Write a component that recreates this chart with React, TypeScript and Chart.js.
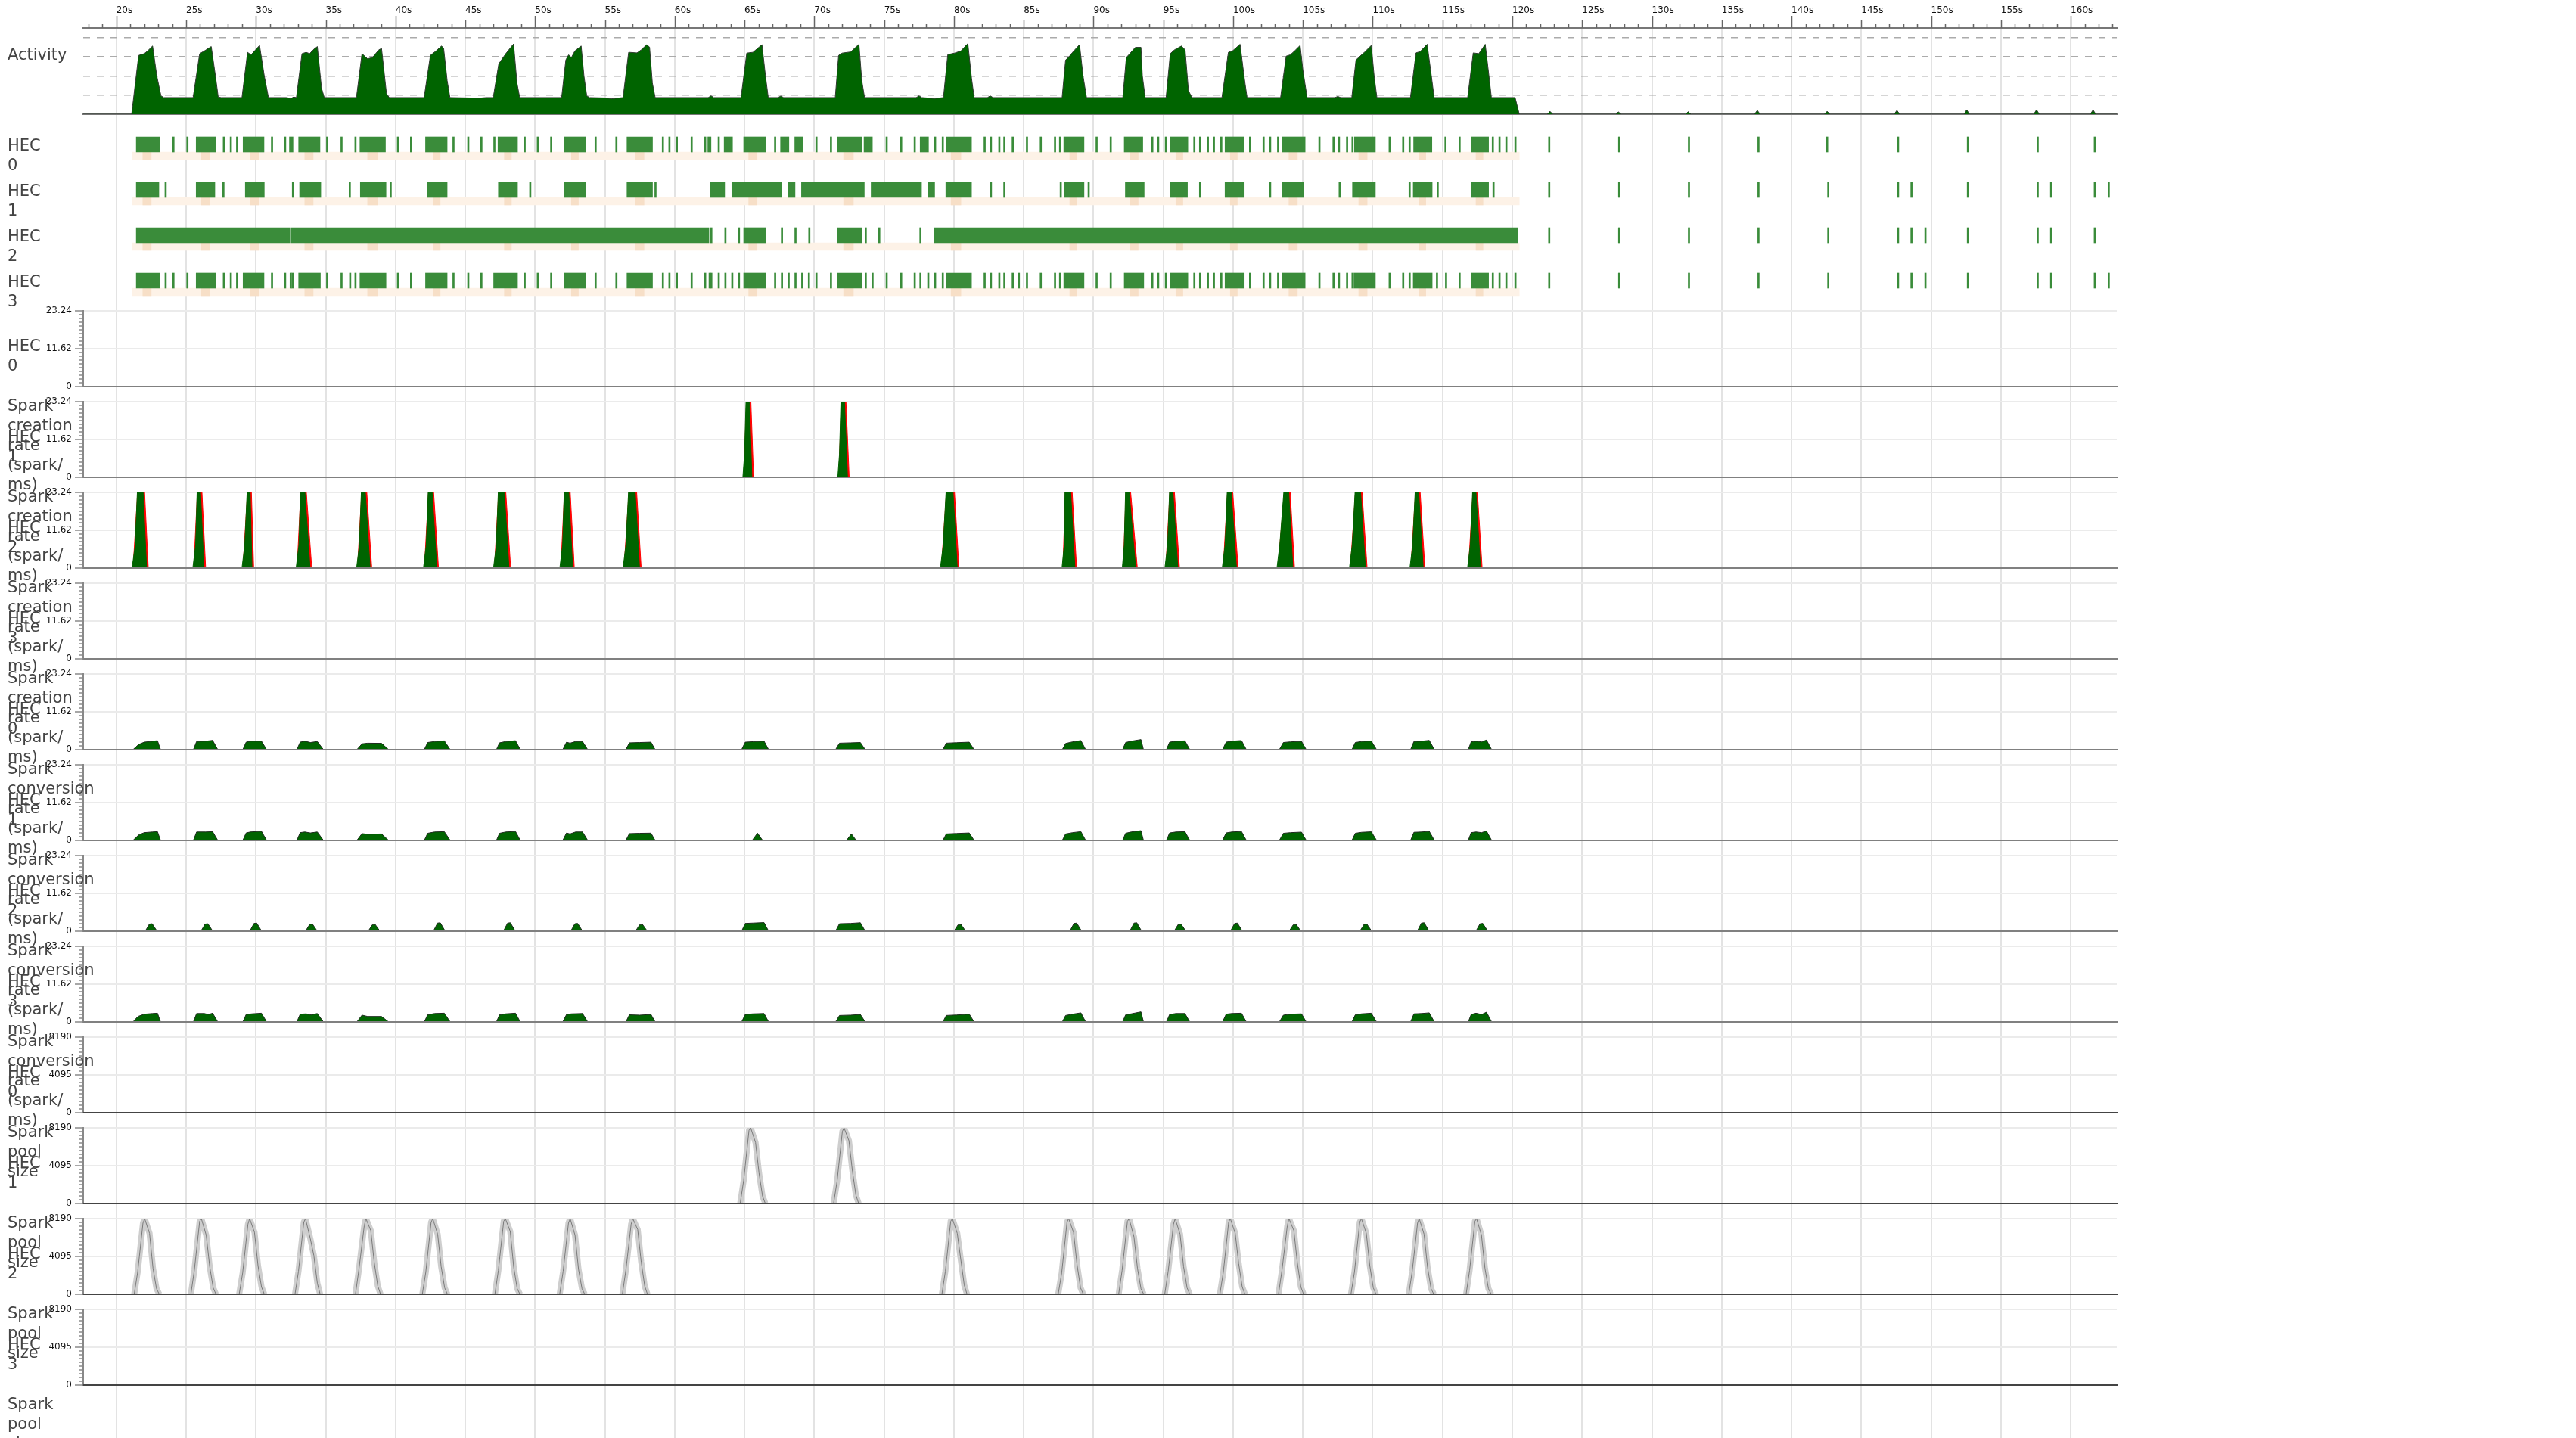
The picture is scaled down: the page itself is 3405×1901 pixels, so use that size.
import React, { useEffect, useRef } from 'react';
import { Chart, registerables } from 'chart.js';

Chart.register(...registerables);
Chart.defaults.font.family = "'DejaVu Sans', sans-serif";

type P = [number, number];

// ---------------- time axis ----------------
const timeMin = 17.63;
const timeMax = 163.3;
const timeTickValues = [20, 25, 30, 35, 40, 45, 50, 55, 60, 65, 70, 75, 80, 85, 90, 95, 100, 105, 110, 115, 120, 125, 130, 135, 140, 145, 150, 155, 160];
const timeTickLabels = ['20s', '25s', '30s', '35s', '40s', '45s', '50s', '55s', '60s', '65s', '70s', '75s', '80s', '85s', '90s', '95s', '100s', '105s', '110s', '115s', '120s', '125s', '130s', '135s', '140s', '145s', '150s', '155s', '160s'];

// ---------------- activity (cores in use) ----------------
const activity: P[] = [
  [17.63, 0], [21.1, 0], [21.6, 3.07], [22.0, 3.16], [22.24, 3.3], [22.6, 3.56], [22.9, 2.0], [23.2, 0.96], [23.4, 0.87],
  [25.5, 0.87], [25.97, 3.16], [26.3, 3.3], [26.8, 3.53], [27.1, 2.0], [27.3, 0.9], [27.5, 0.87],
  [29.0, 0.87], [29.4, 3.23], [29.65, 3.1], [30.26, 3.59], [30.6, 2.0], [30.9, 0.87],
  [32.2, 0.87], [32.5, 0.82], [32.7, 0.9], [32.9, 0.87], [33.3, 3.16], [33.6, 3.23], [33.85, 3.16], [34.1, 3.36], [34.4, 3.53], [34.7, 1.36], [34.9, 0.87],
  [37.2, 0.87], [37.6, 3.16], [38.0, 2.89], [38.35, 2.96], [38.8, 3.36], [39.0, 3.43], [39.35, 1.09], [39.55, 0.87],
  [42.05, 0.87], [42.5, 3.07], [42.9, 3.3], [43.3, 3.56], [43.45, 3.43], [43.7, 1.76], [43.9, 0.87],
  [46.0, 0.84], [46.5, 0.87], [47.0, 0.87], [47.4, 2.63], [47.9, 3.16], [48.46, 3.67], [48.7, 1.63], [48.9, 0.87],
  [51.9, 0.87], [52.2, 2.83], [52.4, 3.1], [52.6, 2.96], [52.85, 3.3], [53.3, 3.56], [53.5, 2.0], [53.7, 0.96], [53.9, 0.87],
  [55.0, 0.85], [55.5, 0.81], [56.3, 0.87], [56.7, 3.23], [57.3, 3.2], [57.6, 3.36], [58.0, 3.63], [58.2, 3.5], [58.4, 1.63], [58.6, 0.87],
  [62.4, 0.87], [62.6, 0.96], [62.8, 0.87],
  [64.75, 0.87], [65.16, 3.19], [65.6, 3.23], [66.25, 3.63], [66.5, 2.0], [66.7, 0.87],
  [67.4, 0.87], [67.6, 0.95], [67.8, 0.87],
  [71.5, 0.87], [71.74, 3.07], [72.0, 3.19], [72.6, 3.25], [73.2, 3.65], [73.4, 1.76], [73.6, 0.87],
  [77.3, 0.87], [77.5, 0.96], [77.7, 0.87], [78.6, 0.82], [79.0, 0.85],
  [79.25, 0.87], [79.56, 3.11], [80.05, 3.19], [80.5, 3.3], [81.0, 3.69], [81.26, 1.89], [81.45, 0.87],
  [82.4, 0.87], [82.6, 0.96], [82.8, 0.87],
  [87.75, 0.87], [88.0, 2.83], [88.2, 2.96], [88.5, 3.23], [89.0, 3.63], [89.25, 2.0], [89.5, 0.87],
  [92.1, 0.87], [92.35, 2.96], [92.6, 3.16], [93.0, 3.49], [93.4, 3.49], [93.5, 2.0], [93.7, 0.87],
  [95.2, 0.87], [95.5, 3.16], [95.8, 3.36], [96.3, 3.56], [96.56, 3.36], [96.8, 1.23], [97.05, 0.87],
  [99.2, 0.87], [99.66, 3.23], [99.95, 3.3], [100.5, 3.65], [100.8, 1.89], [101.0, 0.87],
  [103.4, 0.87], [103.8, 3.03], [104.1, 3.1], [104.4, 3.3], [104.8, 3.59], [105.0, 2.29], [105.3, 0.87],
  [107.3, 0.87], [107.5, 0.93], [107.7, 0.87],
  [108.5, 0.87], [108.8, 2.83], [109.05, 3.0], [109.4, 3.23], [109.9, 3.59], [110.1, 2.0], [110.3, 0.87],
  [112.7, 0.87], [113.1, 3.2], [113.4, 3.27], [113.9, 3.65], [114.2, 2.0], [114.4, 0.87],
  [116.8, 0.87], [117.2, 3.2], [117.6, 3.16], [118.06, 3.65], [118.3, 2.16], [118.5, 0.87],
  [120.2, 0.87], [120.5, 0],
  [122.5, 0], [122.7, 0.15], [122.9, 0],
  [127.4, 0], [127.6, 0.12], [127.8, 0],
  [132.4, 0], [132.6, 0.13], [132.8, 0],
  [137.35, 0], [137.55, 0.2], [137.75, 0],
  [142.35, 0], [142.55, 0.15], [142.75, 0],
  [147.35, 0], [147.55, 0.2], [147.75, 0],
  [152.35, 0], [152.55, 0.23], [152.75, 0],
  [157.35, 0], [157.55, 0.23], [157.75, 0],
  [161.4, 0], [161.6, 0.22], [161.8, 0],
  [163.3, 0],
];
const activityGridValues = [1, 2, 3, 4];

// ---------------- HEC rows (running intervals, single events) ----------------
const hecNames = ['HEC\n0', 'HEC\n1', 'HEC\n2', 'HEC\n3'];
const hec0Blocks: P[] = [[21.43, 23.11], [25.72, 27.12], [29.08, 30.58], [32.4, 32.66], [33.06, 34.59], [37.45, 39.28], [42.15, 43.7], [47.34, 48.74], [52.1, 53.6], [56.58, 58.41], [62.37, 62.6], [63.54, 64.14], [64.94, 66.54], [67.58, 68.18], [68.6, 69.15], [71.65, 73.39], [73.56, 74.16], [77.58, 78.18], [79.44, 81.26], [87.87, 89.32], [92.2, 93.53], [95.47, 96.76], [99.42, 100.75], [103.54, 105.16], [108.69, 110.19], [112.93, 114.24], [117.05, 118.3]];
const hec0Events = [24.04, 25.04, 27.65, 28.15, 28.6, 31.1, 32.04, 35.05, 36.08, 37.08, 40.12, 41.06, 44.1, 45.16, 46.1, 47.03, 49.2, 50.14, 51.1, 54.28, 55.77, 59.1, 59.57, 60.1, 61.16, 62.13, 63.1, 67.14, 70.1, 71.14, 75.13, 76.17, 77.14, 78.6, 79.15, 82.15, 82.6, 83.2, 83.56, 84.16, 85.18, 86.17, 87.19, 87.55, 90.17, 91.18, 94.16, 94.58, 95.13, 97.17, 97.58, 98.14, 98.57, 99.1, 101.16, 102.13, 102.6, 103.17, 106.13, 107.14, 107.53, 108.11, 108.5, 111.16, 112.13, 112.59, 115.16, 116.17, 118.55, 119.03, 119.52, 120.17, 122.59, 127.6, 132.6, 137.58, 142.5, 147.58, 152.58, 157.58, 161.67];
const hec1Blocks: P[] = [[21.43, 23.05], [25.72, 27.06], [29.24, 30.6], [33.13, 34.65], [37.48, 39.32], [42.27, 43.7], [47.37, 48.74], [52.1, 53.6], [56.58, 58.41], [62.54, 63.58], [64.09, 67.65], [68.11, 68.62], [69.08, 73.58], [74.07, 77.68], [78.14, 78.62], [79.42, 81.26], [87.92, 89.32], [92.28, 93.63], [95.47, 96.73], [99.42, 100.8], [103.5, 105.08], [108.55, 110.19], [112.9, 114.26], [117.05, 118.3]];
const hec1Events = [23.48, 27.62, 32.6, 36.67, 39.6, 49.6, 58.57, 82.6, 83.56, 87.6, 89.6, 97.58, 102.6, 107.58, 112.59, 114.6, 118.6, 122.59, 127.6, 132.6, 137.58, 142.58, 147.58, 148.54, 152.58, 157.58, 158.54, 161.67, 162.67];
const hec2Blocks: P[] = [[21.43, 32.44], [32.52, 62.45], [64.94, 66.54], [71.65, 73.39], [78.6, 120.41]];
const hec2Events = [62.57, 63.58, 64.55, 67.63, 68.6, 69.59, 73.63, 74.6, 77.55, 122.59, 127.6, 132.6, 137.58, 142.58, 147.58, 148.54, 149.54, 152.58, 157.58, 158.54, 161.67];
const hec3Blocks: P[] = [[21.43, 23.11], [25.72, 27.12], [29.08, 30.58], [33.06, 34.62], [37.45, 39.32], [42.15, 43.7], [47.03, 48.74], [52.1, 53.6], [56.58, 58.41], [64.94, 66.54], [71.65, 73.39], [79.44, 81.26], [87.87, 89.32], [92.2, 93.6], [95.47, 96.76], [99.42, 100.8], [103.5, 105.16], [108.65, 110.19], [112.9, 114.26], [117.05, 118.3]];
const hec3Events = [23.48, 24.04, 25.04, 27.65, 28.15, 28.6, 31.1, 32.04, 32.44, 32.57, 35.05, 36.08, 36.7, 37.08, 40.12, 41.06, 44.1, 45.16, 46.1, 49.2, 50.14, 51.1, 54.28, 55.77, 59.1, 59.57, 60.1, 61.16, 62.13, 62.45, 62.57, 63.1, 63.58, 64.07, 64.55, 67.14, 67.63, 68.11, 68.6, 69.08, 69.56, 70.1, 71.14, 73.63, 74.12, 75.13, 76.17, 77.14, 77.55, 78.11, 78.6, 79.15, 82.15, 82.6, 83.2, 83.56, 84.16, 84.6, 85.18, 86.17, 87.19, 87.55, 90.17, 91.18, 94.16, 94.58, 95.13, 97.17, 97.58, 98.14, 98.57, 99.1, 101.16, 102.13, 102.6, 103.17, 106.13, 107.14, 107.53, 108.11, 108.5, 111.16, 112.13, 112.59, 114.55, 115.2, 116.17, 118.55, 119.03, 119.52, 120.17, 122.59, 127.6, 132.6, 137.58, 142.58, 147.58, 148.54, 149.54, 152.58, 157.58, 158.54, 161.67, 162.67];
const gcBase: P = [21.15, 120.5];
const gcSpots: P[] = [[21.9, 22.5], [26.1, 26.7], [29.6, 30.2], [33.5, 34.1], [38.0, 38.7], [42.7, 43.2], [47.8, 48.3], [52.6, 53.1], [57.2, 57.8], [65.3, 65.9], [72.1, 72.8], [79.8, 80.5], [88.3, 88.8], [92.6, 93.2], [95.9, 96.4], [99.8, 100.3], [104.0, 104.6], [109.0, 109.6], [113.3, 113.8], [117.4, 117.9]];

// ---------------- spark creation (spark/ms) ----------------
const creationHec1Green: P[] = [[64.88, 0], [65.0, 7], [65.15, 30], [65.3, 30], [65.53, 0], [71.68, 0], [71.8, 7], [71.95, 30], [72.1, 30], [72.38, 0]];
const creationHec1Red: P[] = [[64.95, 0], [65.2, 30], [65.4, 30], [65.65, 0], [71.75, 0], [72.0, 30], [72.2, 30], [72.5, 0]];
const creationHec2Green: P[] = [
  [21.13, 0], [21.35, 7], [21.57, 30], [21.85, 30], [22.17, 0],
  [25.48, 0], [25.68, 7], [25.83, 30], [25.96, 30], [26.28, 0],
  [29.0, 0], [29.2, 7], [29.44, 30], [29.55, 30], [29.72, 0],
  [32.88, 0], [33.08, 7], [33.24, 30], [33.4, 30], [33.88, 0],
  [37.21, 0], [37.41, 7], [37.61, 30], [37.74, 30], [38.18, 0],
  [42.0, 0], [42.2, 7], [42.4, 30], [42.53, 30], [42.96, 0],
  [47.02, 0], [47.22, 7], [47.42, 30], [47.7, 30], [48.13, 0],
  [51.77, 0], [51.97, 7], [52.13, 30], [52.33, 30], [52.69, 0],
  [56.3, 0], [56.5, 7], [56.77, 30], [57.08, 30], [57.48, 0],
  [79.03, 0], [79.23, 7], [79.52, 30], [79.85, 30], [80.24, 0],
  [87.74, 0], [87.9, 7], [87.98, 30], [88.28, 30], [88.67, 0],
  [92.06, 0], [92.2, 7], [92.33, 30], [92.42, 30], [93.02, 0],
  [95.11, 0], [95.31, 7], [95.5, 30], [95.59, 30], [96.04, 0],
  [99.22, 0], [99.42, 7], [99.64, 30], [99.76, 30], [100.24, 0],
  [103.14, 0], [103.34, 7], [103.75, 30], [103.9, 30], [104.28, 0],
  [108.33, 0], [108.53, 7], [108.82, 30], [109.03, 30], [109.48, 0],
  [112.66, 0], [112.86, 7], [113.11, 30], [113.2, 30], [113.62, 0],
  [116.79, 0], [116.99, 7], [117.22, 30], [117.3, 30], [117.72, 0],
];
const creationHec2Red: P[] = [
  [21.2, 0], [21.62, 30], [21.95, 30], [22.29, 0],
  [25.55, 0], [25.88, 30], [26.06, 30], [26.4, 0],
  [29.07, 0], [29.49, 30], [29.63, 30], [29.84, 0],
  [32.95, 0], [33.29, 30], [33.5, 30], [34.0, 0],
  [37.28, 0], [37.66, 30], [37.84, 30], [38.3, 0],
  [42.07, 0], [42.45, 30], [42.63, 30], [43.08, 0],
  [47.09, 0], [47.47, 30], [47.8, 30], [48.25, 0],
  [51.84, 0], [52.18, 30], [52.43, 30], [52.81, 0],
  [56.37, 0], [56.82, 30], [57.18, 30], [57.6, 0],
  [79.1, 0], [79.57, 30], [79.95, 30], [80.36, 0],
  [87.81, 0], [88.03, 30], [88.38, 30], [88.79, 0],
  [92.13, 0], [92.38, 30], [92.52, 30], [93.14, 0],
  [95.18, 0], [95.55, 30], [95.69, 30], [96.16, 0],
  [99.29, 0], [99.69, 30], [99.86, 30], [100.36, 0],
  [103.21, 0], [103.8, 30], [104.0, 30], [104.4, 0],
  [108.4, 0], [108.87, 30], [109.13, 30], [109.6, 0],
  [112.73, 0], [113.16, 30], [113.3, 30], [113.74, 0],
  [116.86, 0], [117.27, 30], [117.4, 30], [117.84, 0],
];

// ---------------- spark conversion (spark/ms) ----------------
const conversionHec0: P[] = [
  [21.19, 0], [21.6, 1.6], [22.0, 2.3], [22.6, 2.6], [22.95, 2.75], [23.17, 0],
  [25.52, 0], [25.75, 2.5], [26.4, 2.6], [26.9, 2.85], [27.27, 0],
  [29.06, 0], [29.3, 2.3], [29.6, 2.6], [30.4, 2.6], [30.77, 0],
  [32.93, 0], [33.17, 2.3], [33.5, 2.6], [33.9, 2.2], [34.4, 2.5], [34.84, 0],
  [37.23, 0], [37.6, 1.8], [38.0, 2.0], [39.0, 1.95], [39.51, 0],
  [42.06, 0], [42.3, 2.2], [42.8, 2.5], [43.5, 2.7], [43.92, 0],
  [47.23, 0], [47.45, 2.1], [47.9, 2.5], [48.6, 2.75], [48.94, 0],
  [51.98, 0], [52.25, 2.3], [52.5, 2.0], [52.9, 2.5], [53.4, 2.5], [53.77, 0],
  [56.5, 0], [56.75, 2.1], [57.5, 2.2], [58.3, 2.3], [58.6, 0],
  [64.79, 0], [65.05, 2.3], [65.6, 2.45], [66.4, 2.6], [66.73, 0],
  [71.52, 0], [71.8, 2.0], [72.6, 2.1], [73.3, 2.2], [73.65, 0],
  [79.21, 0], [79.45, 2.0], [80.2, 2.15], [81.1, 2.3], [81.45, 0],
  [87.76, 0], [88.0, 1.9], [88.5, 2.4], [89.1, 2.8], [89.44, 0],
  [92.08, 0], [92.3, 2.2], [92.7, 2.6], [93.4, 3.1], [93.58, 0],
  [95.22, 0], [95.45, 2.3], [95.9, 2.6], [96.55, 2.7], [96.9, 0],
  [99.24, 0], [99.5, 2.3], [99.9, 2.6], [100.6, 2.8], [100.95, 0],
  [103.31, 0], [103.6, 2.2], [104.1, 2.4], [104.9, 2.55], [105.24, 0],
  [108.51, 0], [108.75, 2.2], [109.2, 2.5], [109.9, 2.65], [110.28, 0],
  [112.71, 0], [112.95, 2.5], [113.5, 2.6], [114.05, 2.85], [114.42, 0],
  [116.84, 0], [117.05, 2.4], [117.4, 2.6], [117.8, 2.4], [118.15, 2.95], [118.52, 0],
];
const conversionHec1: P[] = [
  [21.19, 0], [21.6, 1.7], [22.0, 2.4], [22.6, 2.6], [22.95, 2.7], [23.17, 0],
  [25.52, 0], [25.75, 2.6], [26.4, 2.6], [26.9, 2.7], [27.27, 0],
  [29.06, 0], [29.3, 2.3], [29.6, 2.6], [30.4, 2.8], [30.77, 0],
  [32.93, 0], [33.17, 2.4], [33.5, 2.6], [33.9, 2.3], [34.4, 2.6], [34.84, 0],
  [37.23, 0], [37.6, 2.1], [38.0, 1.9], [39.0, 2.0], [39.51, 0],
  [42.06, 0], [42.3, 2.2], [42.8, 2.6], [43.5, 2.7], [43.92, 0],
  [47.23, 0], [47.45, 2.2], [47.9, 2.6], [48.6, 2.75], [48.94, 0],
  [51.98, 0], [52.25, 2.3], [52.5, 2.0], [52.9, 2.6], [53.4, 2.6], [53.77, 0],
  [56.5, 0], [56.75, 2.1], [57.5, 2.2], [58.3, 2.25], [58.6, 0],
  [65.55, 0], [65.93, 2.25], [66.3, 0],
  [72.3, 0], [72.66, 2.0], [73.0, 0],
  [79.21, 0], [79.45, 2.0], [80.2, 2.15], [81.1, 2.3], [81.45, 0],
  [87.76, 0], [88.0, 2.0], [88.5, 2.4], [89.1, 2.7], [89.44, 0],
  [92.08, 0], [92.3, 2.2], [92.7, 2.6], [93.4, 3.0], [93.58, 0],
  [95.22, 0], [95.45, 2.3], [95.9, 2.6], [96.55, 2.7], [96.9, 0],
  [99.24, 0], [99.5, 2.3], [99.9, 2.6], [100.6, 2.75], [100.95, 0],
  [103.31, 0], [103.6, 2.2], [104.1, 2.4], [104.9, 2.55], [105.24, 0],
  [108.51, 0], [108.75, 2.2], [109.2, 2.5], [109.9, 2.65], [110.28, 0],
  [112.71, 0], [112.95, 2.5], [113.5, 2.6], [114.05, 2.8], [114.42, 0],
  [116.84, 0], [117.05, 2.4], [117.4, 2.6], [117.8, 2.4], [118.15, 2.9], [118.52, 0],
];
const conversionHec2: P[] = [
  [22.07, 0], [22.37, 2.2], [22.57, 2.3], [22.92, 0],
  [26.06, 0], [26.36, 2.2], [26.56, 2.3], [26.91, 0],
  [29.56, 0], [29.86, 2.4], [30.06, 2.5], [30.41, 0],
  [33.55, 0], [33.85, 2.1], [34.05, 2.2], [34.4, 0],
  [38.04, 0], [38.34, 2.0], [38.54, 2.1], [38.89, 0],
  [42.71, 0], [43.01, 2.5], [43.21, 2.6], [43.56, 0],
  [47.73, 0], [48.03, 2.5], [48.23, 2.6], [48.58, 0],
  [52.55, 0], [52.85, 2.3], [53.05, 2.4], [53.4, 0],
  [57.19, 0], [57.49, 2.0], [57.69, 2.1], [58.04, 0],
  [64.79, 0], [65.05, 2.4], [65.6, 2.5], [66.4, 2.65], [66.73, 0],
  [71.52, 0], [71.8, 2.3], [72.6, 2.4], [73.3, 2.6], [73.65, 0],
  [80.0, 0], [80.3, 2.0], [80.5, 2.1], [80.85, 0],
  [88.3, 0], [88.6, 2.4], [88.8, 2.5], [89.15, 0],
  [92.6, 0], [92.9, 2.5], [93.1, 2.6], [93.45, 0],
  [95.77, 0], [96.07, 2.1], [96.27, 2.2], [96.62, 0],
  [99.81, 0], [100.11, 2.4], [100.31, 2.5], [100.66, 0],
  [104.01, 0], [104.31, 2.0], [104.51, 2.1], [104.86, 0],
  [109.08, 0], [109.38, 2.1], [109.58, 2.2], [109.93, 0],
  [113.19, 0], [113.49, 2.5], [113.69, 2.6], [114.04, 0],
  [117.39, 0], [117.69, 2.3], [117.89, 2.4], [118.24, 0],
];
const conversionHec3: P[] = [
  [21.19, 0], [21.55, 1.7], [22.0, 2.4], [22.6, 2.6], [22.95, 2.7], [23.17, 0],
  [25.52, 0], [25.75, 2.6], [26.3, 2.6], [26.6, 2.3], [26.9, 2.7], [27.27, 0],
  [29.06, 0], [29.3, 2.3], [29.7, 2.5], [30.4, 2.7], [30.77, 0],
  [32.93, 0], [33.17, 2.4], [33.6, 2.5], [33.95, 2.2], [34.4, 2.6], [34.84, 0],
  [37.23, 0], [37.6, 2.1], [38.0, 1.7], [39.0, 1.7], [39.51, 0],
  [42.06, 0], [42.3, 2.2], [42.8, 2.6], [43.5, 2.7], [43.92, 0],
  [47.23, 0], [47.45, 2.2], [47.9, 2.5], [48.6, 2.7], [48.94, 0],
  [51.98, 0], [52.25, 2.3], [52.6, 2.5], [53.4, 2.6], [53.77, 0],
  [56.5, 0], [56.75, 2.2], [57.5, 2.1], [58.3, 2.3], [58.6, 0],
  [64.79, 0], [65.05, 2.3], [65.6, 2.5], [66.4, 2.6], [66.73, 0],
  [71.52, 0], [71.8, 2.0], [72.6, 2.1], [73.3, 2.3], [73.65, 0],
  [79.21, 0], [79.45, 2.0], [80.2, 2.15], [81.1, 2.4], [81.45, 0],
  [87.76, 0], [88.0, 2.0], [88.5, 2.4], [89.1, 2.8], [89.44, 0],
  [92.08, 0], [92.3, 2.2], [92.7, 2.5], [93.4, 3.1], [93.58, 0],
  [95.22, 0], [95.45, 2.3], [95.9, 2.6], [96.55, 2.6], [96.9, 0],
  [99.24, 0], [99.5, 2.4], [99.9, 2.6], [100.6, 2.7], [100.95, 0],
  [103.31, 0], [103.6, 2.1], [104.1, 2.4], [104.9, 2.5], [105.24, 0],
  [108.51, 0], [108.75, 2.2], [109.2, 2.5], [109.9, 2.7], [110.28, 0],
  [112.71, 0], [112.95, 2.5], [113.5, 2.6], [114.05, 2.8], [114.42, 0],
  [116.84, 0], [117.05, 2.3], [117.4, 2.7], [117.8, 2.3], [118.15, 3.0], [118.52, 0],
];

// ---------------- spark pool size ----------------
const poolHec1: P[] = [
  [64.69, 0], [64.94, 2500], [65.32, 7900], [65.44, 8190], [65.79, 6600], [66.04, 3300], [66.29, 800], [66.49, 0],
  [71.38, 0], [71.63, 2400], [72.01, 7800], [72.13, 8190], [72.48, 6800], [72.73, 3500], [72.98, 900], [73.18, 0],
];
const poolHec2: P[] = [
  [21.28, 0], [21.53, 2400], [21.91, 7700], [22.03, 8190], [22.38, 6600], [22.63, 2800], [22.88, 600], [23.08, 0],
  [25.34, 0], [25.59, 2600], [25.97, 7900], [26.09, 8190], [26.44, 6400], [26.69, 3000], [26.94, 700], [27.14, 0],
  [28.8, 0], [29.05, 2300], [29.43, 7600], [29.55, 8190], [29.9, 6700], [30.15, 3100], [30.4, 800], [30.6, 0],
  [32.8, 0], [33.05, 2500], [33.43, 7800], [33.55, 8190], [33.9, 6000], [34.15, 4200], [34.4, 1200], [34.6, 0],
  [37.13, 0], [37.38, 2700], [37.76, 7400], [37.88, 8190], [38.23, 6900], [38.48, 3400], [38.73, 900], [38.93, 0],
  [41.92, 0], [42.17, 2400], [42.55, 7800], [42.67, 8190], [43.02, 6500], [43.27, 3000], [43.52, 700], [43.72, 0],
  [47.12, 0], [47.37, 2600], [47.75, 7900], [47.87, 8190], [48.22, 6800], [48.47, 2900], [48.72, 600], [48.92, 0],
  [51.76, 0], [52.01, 2500], [52.39, 7700], [52.51, 8190], [52.86, 6400], [53.11, 2700], [53.36, 600], [53.56, 0],
  [56.25, 0], [56.5, 2600], [56.88, 7600], [57.0, 8190], [57.35, 7000], [57.6, 3500], [57.85, 900], [58.05, 0],
  [79.14, 0], [79.39, 2500], [79.77, 7900], [79.89, 8190], [80.24, 6600], [80.49, 3800], [80.74, 1000], [80.94, 0],
  [87.47, 0], [87.72, 2300], [88.1, 7800], [88.22, 8190], [88.57, 6700], [88.82, 3200], [89.07, 700], [89.27, 0],
  [91.8, 0], [92.05, 2600], [92.43, 7900], [92.55, 8190], [92.9, 6200], [93.15, 2800], [93.4, 600], [93.6, 0],
  [95.1, 0], [95.35, 2500], [95.73, 7600], [95.85, 8190], [96.2, 6500], [96.45, 3000], [96.7, 700], [96.9, 0],
  [99.05, 0], [99.3, 2400], [99.68, 7800], [99.8, 8190], [100.15, 6600], [100.4, 3300], [100.65, 800], [100.85, 0],
  [103.25, 0], [103.5, 2600], [103.88, 7400], [104.0, 8190], [104.35, 6900], [104.6, 3400], [104.85, 800], [105.05, 0],
  [108.44, 0], [108.69, 2400], [109.07, 7800], [109.19, 8190], [109.54, 6600], [109.79, 3100], [110.04, 700], [110.24, 0],
  [112.58, 0], [112.83, 2500], [113.21, 7700], [113.33, 8190], [113.68, 6500], [113.93, 2900], [114.18, 600], [114.38, 0],
  [116.69, 0], [116.94, 2600], [117.32, 7900], [117.44, 8190], [117.79, 6400], [118.04, 2800], [118.29, 600], [118.49, 0],
];

const rateAxisMax = 23.24;
const rateAxisLabels = ['0', '11.62', '23.24'];
const poolAxisMax = 8190;
const poolAxisLabels = ['0', '4095', '8190'];
const groupTitles = [
  ['Spark', 'creation', 'rate', '(spark/', 'ms)'],
  ['Spark', 'conversion', 'rate', '(spark/', 'ms)'],
  ['Spark', 'pool', 'size'],
];

type Panel = { kind: 'creation' | 'conversion' | 'pool'; hec: number; a?: P[]; b?: P[] };
const panels: Panel[] = [
  { kind: 'creation', hec: 0 },
  { kind: 'creation', hec: 1, a: creationHec1Green, b: creationHec1Red },
  { kind: 'creation', hec: 2, a: creationHec2Green, b: creationHec2Red },
  { kind: 'creation', hec: 3 },
  { kind: 'conversion', hec: 0, a: conversionHec0 },
  { kind: 'conversion', hec: 1, a: conversionHec1 },
  { kind: 'conversion', hec: 2, a: conversionHec2 },
  { kind: 'conversion', hec: 3, a: conversionHec3 },
  { kind: 'pool', hec: 0 },
  { kind: 'pool', hec: 1, a: poolHec1 },
  { kind: 'pool', hec: 2, a: poolHec2 },
  { kind: 'pool', hec: 3 },
];

// ---------------- layout (pixels) ----------------
const PAGE_W = 3405;
const PAGE_H = 1901;
const CANVAS_W = 2800;
const PLOT_LEFT = 110;
const PAD_RIGHT = 2;
const AXIS_Y = 37;
const ACT_BOTTOM = 151;
const HEC_TOP = 161;
const HEC_H = 240;
const PANEL_TOP0 = 411;
const PANEL_STEP = 120;
const PANEL_H = 100;
const PANEL_PAD = 12;

const pts = (arr: P[]) => arr.map(([x, y]) => ({ x, y }));
const xRange = { type: 'linear' as const, min: timeMin, max: timeMax };
const CLEAR = 'rgba(0,0,0,0)';

const topTicksPlugin = {
  id: 'topTicks',
  afterDraw(chart: any) {
    const s = chart.scales.x;
    const ctx = chart.ctx;
    ctx.save();
    ctx.strokeStyle = '#666';
    ctx.lineWidth = 1.5;
    for (const tk of s.ticks) {
      const v = tk.value;
      const px = Math.round(s.getPixelForValue(v)) + 0.5;
      const len = v % 10 === 0 ? 16 : v % 5 === 0 ? 10 : 5;
      ctx.beginPath();
      ctx.moveTo(px, s.bottom);
      ctx.lineTo(px, s.bottom - len);
      ctx.stroke();
    }
    ctx.restore();
  },
};

const yTicksPlugin = {
  id: 'yTicks',
  afterDraw(chart: any) {
    const s = chart.scales.y;
    const ctx = chart.ctx;
    ctx.save();
    ctx.strokeStyle = '#8a8a8a';
    ctx.lineWidth = 1.5;
    s.ticks.forEach((tk: any, i: number) => {
      const py = s.getPixelForValue(tk.value);
      const len = i % 10 === 0 ? 11 : 5;
      ctx.beginPath();
      ctx.moveTo(s.right - len, py);
      ctx.lineTo(s.right, py);
      ctx.stroke();
    });
    ctx.restore();
  },
};

const baseOptions = {
  animation: false,
  responsive: false,
  events: [] as any[],
  plugins: { legend: { display: false }, tooltip: { enabled: false } },
};

function gridConfig() {
  return {
    type: 'line',
    data: { datasets: [] },
    options: {
      ...baseOptions,
      layout: { padding: { left: PLOT_LEFT, right: PAD_RIGHT, top: AXIS_Y, bottom: 0 } },
      scales: {
        x: {
          ...xRange,
          ticks: { display: false },
          grid: { color: '#e3e3e3', lineWidth: 2, drawTicks: false },
          border: { display: false },
          afterBuildTicks: (s: any) => { s.ticks = timeTickValues.map((v) => ({ value: v })); },
          afterFit: (s: any) => { s.height = 0; },
        },
        y: { display: false, min: 0, max: 1 },
      },
    },
  };
}

function activityConfig() {
  const seconds: number[] = [];
  for (let t = Math.ceil(timeMin); t <= timeMax; t++) seconds.push(t);
  return {
    type: 'line',
    data: {
      datasets: [{
        data: pts(activity), fill: 'origin', backgroundColor: '#006400', borderColor: '#2e3a2e',
        borderWidth: 1, pointRadius: 0, tension: 0, xAxisID: 'x', yAxisID: 'y',
      }],
    },
    options: {
      ...baseOptions,
      layout: { padding: { left: PLOT_LEFT, right: PAD_RIGHT, top: 0, bottom: 160 - ACT_BOTTOM } },
      scales: {
        x: {
          ...xRange, position: 'top',
          grid: { display: false, drawTicks: true, tickLength: 16, tickColor: CLEAR },
          border: { display: true, color: '#777', width: 2 },
          ticks: {
            autoSkip: false, maxRotation: 0, minRotation: 0, align: 'start', padding: 0, color: '#111', font: { size: 12 },
            callback: (v: number) => { const i = timeTickValues.indexOf(v); return i >= 0 ? timeTickLabels[i] : ''; },
          },
          afterBuildTicks: (s: any) => { s.ticks = seconds.map((v) => ({ value: v })); },
          afterFit: (s: any) => { s.height = AXIS_Y; },
        },
        xb: {
          ...xRange, position: 'bottom',
          ticks: { display: false },
          grid: { display: false, drawTicks: false },
          border: { display: true, color: '#777', width: 2 },
          afterFit: (s: any) => { s.height = 0; },
        },
        y: {
          type: 'linear', min: 0, max: 4.5,
          ticks: { display: false },
          grid: { color: '#ababab', lineWidth: 1.5, drawTicks: false },
          border: { display: false, dash: [9, 9] },
          afterBuildTicks: (s: any) => { s.ticks = activityGridValues.map((v) => ({ value: v })); },
          afterFit: (s: any) => { s.width = 0; },
        },
      },
    },
    plugins: [topTicksPlugin],
  };
}

function hecConfig() {
  const blocks = [hec0Blocks, hec1Blocks, hec2Blocks, hec3Blocks];
  const events = [hec0Events, hec1Events, hec2Events, hec3Events];
  const green = '#3a8c3a';
  return {
    type: 'bar',
    data: {
      datasets: [
        {
          data: blocks.flatMap((bs, row) => bs.map(([s, e]) => ({ x: [s, e], y: row }))),
          backgroundColor: green, barThickness: 20, grouped: false, borderWidth: 0,
        },
        {
          data: events.flatMap((es, row) => es.map((t) => ({ x: [t, t], y: row }))),
          backgroundColor: green, barThickness: 20, grouped: false, borderWidth: 0, minBarLength: 2,
        },
        {
          data: [0, 1, 2, 3].flatMap((row) => gcSpots.map(([s, e]) => ({ x: [s, e], y: row + 0.25 }))),
          backgroundColor: 'rgba(240,200,160,0.45)', barThickness: 10, grouped: false, borderWidth: 0,
        },
        {
          data: [0, 1, 2, 3].map((row) => ({ x: gcBase, y: row + 0.25 })),
          backgroundColor: '#fdf2e7', barThickness: 10, grouped: false, borderWidth: 0,
        },
      ],
    },
    options: {
      ...baseOptions,
      indexAxis: 'y',
      layout: { padding: { left: PLOT_LEFT, right: PAD_RIGHT, top: 0, bottom: 0 } },
      scales: {
        x: { ...xRange, display: false },
        y: { type: 'linear', min: -0.5, max: 3.5, reverse: true, display: false, offset: false },
      },
    },
  };
}

function panelConfig(p: Panel) {
  const isPool = p.kind === 'pool';
  const max = isPool ? poolAxisMax : rateAxisMax;
  const labels = isPool ? poolAxisLabels : rateAxisLabels;
  const datasets: any[] = [];
  const common = { pointRadius: 0, tension: 0, xAxisID: 'x', yAxisID: 'y' };
  if (p.kind === 'creation') {
    datasets.push({ ...common, data: pts(p.a || []), fill: 'origin', backgroundColor: '#006400', borderColor: '#006400', borderWidth: 1 });
    datasets.push({ ...common, data: pts(p.b || []), fill: 'origin', backgroundColor: '#ff0000', borderColor: '#ff0000', borderWidth: 1 });
  } else if (p.kind === 'conversion') {
    datasets.push({ ...common, data: pts(p.a || []), fill: 'origin', backgroundColor: '#006400', borderColor: '#1f2a1f', borderWidth: 1 });
  } else {
    const hideZero = { borderColor: (ctx: any) => (ctx.p0.parsed.y === 0 && ctx.p1.parsed.y === 0 ? CLEAR : undefined) };
    datasets.push({ ...common, data: pts(p.a || []), fill: false, borderColor: '#7a7a7a', borderWidth: 1, segment: hideZero });
    datasets.push({ ...common, data: pts(p.a || []), fill: false, borderColor: '#cecece', borderWidth: 8, segment: hideZero });
  }
  return {
    type: 'line',
    data: { datasets },
    options: {
      ...baseOptions,
      layout: { padding: { left: 0, right: PAD_RIGHT, top: PANEL_PAD, bottom: PANEL_PAD } },
      scales: {
        x: {
          ...xRange,
          ticks: { display: false },
          grid: { display: false, drawTicks: false },
          border: { display: true, color: isPool ? '#444' : '#808080', width: 2, z: 1 },
          afterFit: (s: any) => { s.height = 0; },
        },
        y: {
          type: 'linear', min: 0, max,
          ticks: {
            autoSkip: false, padding: 0, color: '#111', font: { size: 12 },
            callback: (_v: number, i: number) => (i % 10 === 0 ? labels[i / 10] : ''),
          },
          grid: {
            drawTicks: true, tickLength: 15, tickColor: CLEAR, lineWidth: 2,
            color: (ctx: any) => (ctx.index % 10 === 0 ? '#ebebeb' : CLEAR),
          },
          border: { display: true, color: '#888', width: 2 },
          afterBuildTicks: (s: any) => { s.ticks = Array.from({ length: 21 }, (_, i) => ({ value: (max * i) / 20 })); },
          afterFit: (s: any) => { s.width = PLOT_LEFT; },
        },
      },
    },
    plugins: [yTicksPlugin],
  };
}

function ChartBox({ top, height, make }: { top: number; height: number; make: () => any }) {
  const ref = useRef<HTMLCanvasElement>(null);
  useEffect(() => {
    const chart = new Chart(ref.current as HTMLCanvasElement, make());
    return () => chart.destroy();
  }, []);
  return (
    <canvas
      ref={ref}
      width={CANVAS_W}
      height={height}
      style={{ position: 'absolute', left: 0, top, width: CANVAS_W, height }}
    />
  );
}

const textStyle: React.CSSProperties = {
  position: 'absolute',
  left: 10,
  fontFamily: "'DejaVu Sans', sans-serif",
  fontSize: 21,
  lineHeight: '26px',
  color: '#444',
  whiteSpace: 'pre',
  margin: 0,
};

export default function App() {
  return (
    <div style={{ position: 'absolute', left: 0, top: 0, width: PAGE_W, height: PAGE_H, overflow: 'hidden', background: '#fff' }}>
      <ChartBox top={0} height={PAGE_H} make={gridConfig} />
      <ChartBox top={0} height={160} make={activityConfig} />
      <ChartBox top={HEC_TOP} height={HEC_H} make={hecConfig} />
      {panels.map((p, i) => (
        <ChartBox key={i} top={PANEL_TOP0 + PANEL_STEP * i - PANEL_PAD} height={PANEL_H + 2 * PANEL_PAD} make={() => panelConfig(p)} />
      ))}
      <div style={{ ...textStyle, top: 59 }}>Activity</div>
      {hecNames.map((n, i) => (
        <div key={'h' + i} style={{ ...textStyle, top: 179 + 60 * i }}>{n}</div>
      ))}
      {panels.map((p, i) => (
        <div key={'p' + i} style={{ ...textStyle, top: PANEL_TOP0 + PANEL_STEP * i + 33 }}>{hecNames[p.hec]}</div>
      ))}
      {panels.map((_, i) => (
        <div key={'t' + i} style={{ ...textStyle, top: PANEL_TOP0 + PANEL_STEP * (i + 1) - 8 }}>
          {groupTitles[Math.floor(i / 4)].join('\n')}
        </div>
      ))}
    </div>
  );
}
